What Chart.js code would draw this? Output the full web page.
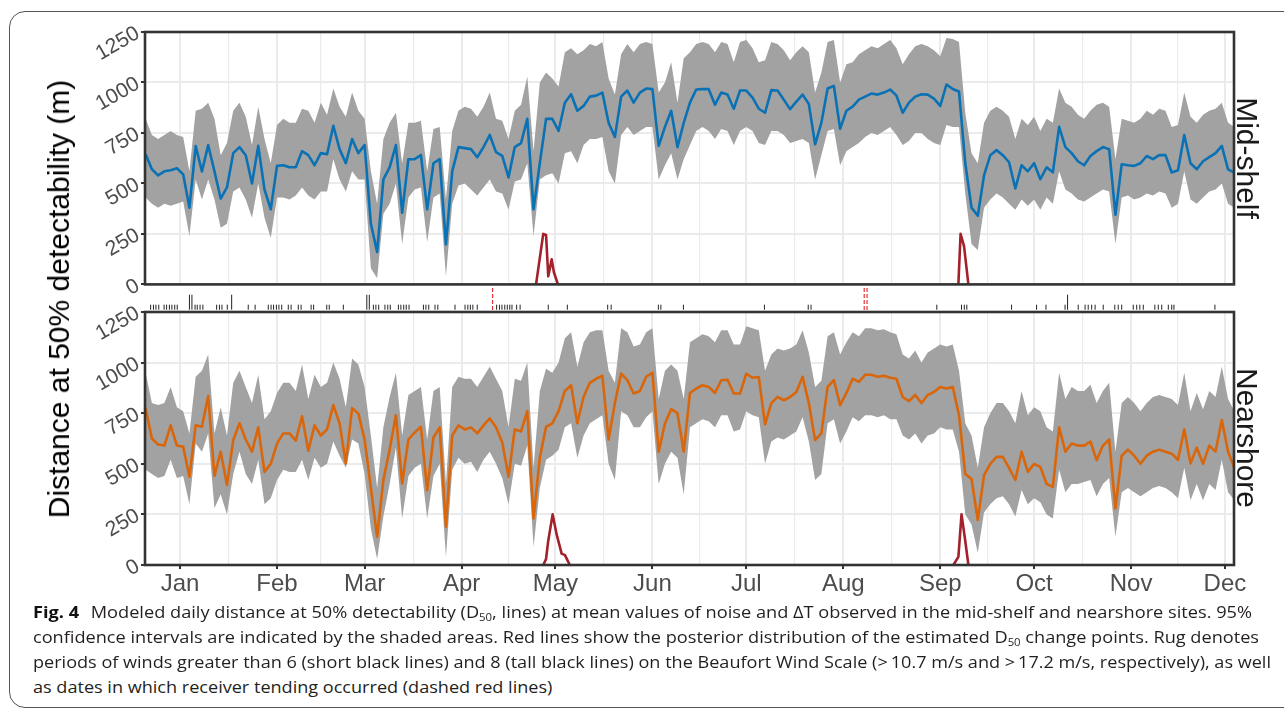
<!DOCTYPE html>
<html>
<head>
<meta charset="utf-8">
<title>Fig. 4 - D50 at mid-shelf and nearshore</title>
<script src="https://cdn.jsdelivr.net/npm/chart.js@4"></script>
<style>
  body { margin: 0; background: #fff; width: 1284px; height: 713px; overflow: hidden; position: relative; }
  .frame { position: absolute; left: 9px; top: 11px; width: 1320px; height: 695px; border: 1.3px solid #555; border-radius: 16px; }
  canvas { position: absolute; left: 0; }
  .ytitle, .strip { position: absolute; font-family: 'Liberation Sans', Arial, sans-serif; font-size: 30px; line-height: 30px; white-space: nowrap; color: #000; }
  .ytitle { left: 59px; top: 299px; transform: translate(-50%, -50%) rotate(-90deg); }
  .strip { left: 1247px; transform: translate(-50%, -50%) rotate(90deg); color: #1a1a1a; }
  .caption { position: absolute; left: 33px; top: 600px; font-family: 'Open Sans', 'Noto Sans', sans-serif; font-size: 16px; line-height: 25px; color: #231f20; }
  .caption div { white-space: nowrap; transform-origin: 0 50%; width: max-content; }
  .caption b { color: #111; margin-right: 6px; }
  .caption sub { font-size: 10px; vertical-align: -3px; line-height: 0; }
</style>
</head>
<body>
<div class="frame"></div>
<canvas id="topChart" width="1284" height="300" style="top:0"></canvas>
<canvas id="rugChart" width="1284" height="26" style="top:286px"></canvas>
<canvas id="bottomChart" width="1284" height="310" style="top:290px"></canvas>

<div class="ytitle">Distance at 50% detectability (m)</div>
<div class="strip" style="top:158px">Mid-shelf</div>
<div class="strip" style="top:438px">Nearshore</div>

<div class="caption" id="caption">
  <div data-w="1219"><b>Fig. 4</b> Modeled daily distance at 50% detectability (D<sub>50</sub>, lines) at mean values of noise and ΔT observed in the mid-shelf and nearshore sites. 95%</div>
  <div data-w="1226">confidence intervals are indicated by the shaded areas. Red lines show the posterior distribution of the estimated D<sub>50</sub> change points. Rug denotes</div>
  <div data-w="1238">periods of winds greater than 6 (short black lines) and 8 (tall black lines) on the Beaufort Wind Scale (&gt;&#8201;10.7 m/s and &gt;&#8201;17.2 m/s, respectively), as well</div>
  <div>as dates in which receiver tending occurred (dashed red lines)</div>
</div>

<script>
const FONT = "'Liberation Sans', Arial, sans-serif";

// days since Jan 1, sampled every second day
const dayGrid = Array.from({ length: 175 }, (_, i) => -11 + 2 * i);

const monthStarts = [0, 31, 59, 90, 120, 151, 181, 212, 243, 273, 304, 334];
const monthLabels = ['Jan', 'Feb', 'Mar', 'Apr', 'May', 'Jun', 'Jul', 'Aug', 'Sep', 'Oct', 'Nov', 'Dec'];
const yTicks = [0, 250, 500, 750, 1000, 1250];

// Mid-shelf D50 (m)
const midShelf = [
  645, 570, 540, 560, 565, 575, 545, 380, 685, 560,
  690, 560, 425, 480, 650, 680, 640, 500, 686, 470,
  372, 587, 590, 580, 580, 660, 640, 590, 650, 645,
  785, 670, 600, 720, 650, 690, 300, 160, 520, 580,
  690, 355, 620, 620, 640, 372, 600, 620, 198, 560,
  680, 675, 670, 630, 680, 740, 655, 636, 530, 680,
  700, 820, 372, 600, 820, 820, 760, 900, 942, 860,
  884, 930, 935, 950, 800, 730, 930, 960, 900, 950,
  970, 967, 686, 780, 860, 680, 800, 900, 965, 967,
  967, 890, 950, 940, 870, 960, 960, 925, 870, 850,
  962, 960, 915, 868, 905, 940, 893, 694, 800, 970,
  983, 770, 860, 880, 915, 930, 945, 940, 950, 965,
  935, 850, 900, 930, 942, 940, 920, 884, 990, 968,
  955, 600, 380, 340, 540, 640, 665, 640, 605, 475,
  590, 560, 600, 521, 580, 555, 780, 680, 650, 610,
  590, 636, 660, 680, 669, 345, 595, 590, 587, 600,
  636, 620, 640, 640, 554, 565, 740, 600, 570, 610,
  630, 650, 686, 570, 554
];
const midShelfHi = [
  820, 740, 720, 740, 760, 740, 730, 560, 860, 870,
  900, 820, 640, 700, 860, 900, 830, 690, 880, 720,
  600, 790, 820, 800, 800, 870, 860, 800, 900, 840,
  970, 880, 830, 950, 860, 820, 560, 400, 720, 800,
  850, 600, 800, 800, 810, 560, 770, 780, 420, 760,
  860, 880, 870, 830, 880, 950, 820, 810, 720, 860,
  890, 1030, 660, 1000, 1050, 1020, 980, 1150, 1170, 1140,
  1160, 1190, 1180, 1200, 1020, 940, 1140, 1190, 1150, 1190,
  1200, 1190, 950, 1000, 1100, 900, 1120, 1150, 1190, 1200,
  1190, 1150, 1200, 1190, 1100, 1200, 1210, 1170, 1100, 1110,
  1200, 1190, 1160, 1110, 1150, 1180, 1150, 950, 1050, 1200,
  1210, 1000, 1090, 1100, 1140, 1160, 1180, 1170, 1190, 1210,
  1170, 1090, 1140, 1180, 1190, 1180, 1160, 1130, 1220, 1215,
  1200, 850, 650, 600, 800, 860, 880, 860, 830, 720,
  820, 790, 830, 760, 820, 800, 970, 900, 880, 840,
  820, 860, 890, 900, 880, 620, 820, 810, 800, 820,
  860, 840, 870, 860, 780, 790, 950, 830, 800, 840,
  860, 870, 900, 800, 780
];
const midShelfLo = [
  430, 400, 380, 400, 390, 400, 410, 240, 520, 420,
  520, 420, 280, 300, 460, 480, 420, 330, 500, 330,
  230, 430, 430, 420, 440, 480, 440, 420, 460, 460,
  620, 520, 460, 560, 520, 520, 80, 30, 350, 400,
  500, 200, 430, 470, 480, 210, 430, 450, 40, 400,
  490, 500, 470, 440, 480, 520, 460, 450, 370, 510,
  520, 600, 240, 520, 540, 550, 500, 650, 660, 600,
  690, 720, 720, 730, 560, 500, 740, 780, 740, 760,
  780, 780, 520, 590, 650, 520, 620, 690, 760, 780,
  760, 720, 770, 760, 690, 760, 780, 760, 700, 690,
  760, 760, 740, 700, 710, 720, 700, 520, 640, 760,
  770, 590, 660, 680, 700, 730, 750, 740, 760, 780,
  740, 690, 710, 750, 750, 720, 700, 690, 790, 780,
  780, 450, 200, 170, 380, 420, 450, 430, 400, 370,
  420, 390, 420, 370, 430, 400, 560, 470, 450, 420,
  410, 430, 450, 470, 460, 200, 430, 440, 420, 430,
  450, 440, 460, 450, 380, 400, 560, 420, 400, 430,
  460, 470, 500, 400, 380
];

// Nearshore D50 (m)
const nearshore = [
  775, 625, 595, 590, 690, 590, 584, 436, 690, 683,
  835, 440, 560, 395, 617, 700, 620, 560, 680, 460,
  500, 600, 650, 650, 615, 735, 565, 690, 640, 670,
  790, 700, 502, 775, 748, 620, 380, 140, 420, 570,
  740, 403, 620, 655, 683, 370, 630, 680, 189, 640,
  690, 670, 680, 650, 690, 724, 680, 605, 436, 670,
  660, 760, 230, 530, 683, 700, 760, 860, 888, 700,
  831, 900, 920, 935, 620, 800, 946, 913, 847, 860,
  930, 950, 560, 699, 770, 750, 560, 850, 872, 888,
  880, 850, 913, 915, 847, 847, 945, 925, 929, 695,
  800, 831, 814, 830, 855, 930, 800, 617, 650, 880,
  913, 790, 850, 920, 905, 940, 940, 930, 935, 925,
  920, 830, 810, 840, 800, 840, 855, 880, 872, 880,
  740, 450, 425, 222, 444, 500, 534, 534, 480, 420,
  560, 460, 500, 485, 400, 386, 680, 560, 600, 590,
  590, 610, 518, 590, 620, 280, 540, 570, 540, 500,
  540, 560, 570, 560, 550, 520, 670, 502, 580, 500,
  590, 560, 716, 560, 480
];
const nearshoreHi = [
  950, 800, 790, 800, 880, 780, 760, 650, 930, 960,
  1040, 650, 780, 640, 900, 960, 880, 800, 940, 720,
  760, 850, 900, 900, 860, 990, 820, 940, 880, 900,
  1000, 920, 780, 1020, 990, 880, 640, 380, 680, 830,
  950, 640, 840, 860, 880, 620, 860, 880, 400, 880,
  930, 920, 920, 880, 930, 980, 920, 860, 680, 920,
  910, 1000, 480, 860, 970, 950, 1000, 1120, 1150, 980,
  1100, 1150, 1160, 1160, 960, 900, 1170, 1150, 1080, 1090,
  1150, 1170, 820, 960, 990, 960, 820, 1100, 1120, 1140,
  1130, 1100, 1160, 1160, 1090, 1090, 1180, 1170, 1160, 960,
  1040, 1070, 1060, 1070, 1090, 1160, 1050, 880, 910, 1130,
  1150, 1040, 1100, 1150, 1130, 1170, 1170, 1160, 1165, 1150,
  1140, 1040, 1020, 1060, 1000, 1050, 1070, 1090, 1080, 1090,
  960, 700, 640, 480, 680, 750, 800, 800, 760, 700,
  860, 740, 780, 760, 680, 660, 950, 820, 880, 860,
  860, 890, 800, 860, 900, 560, 800, 830, 800, 760,
  800, 830, 840, 830, 820, 790, 950, 760, 850, 770,
  860, 830, 980, 820, 760
];
const nearshoreLo = [
  470, 450, 430, 440, 520, 430, 440, 300, 600, 560,
  650, 280, 350, 250, 450, 560, 450, 400, 520, 300,
  330, 420, 470, 460, 460, 520, 420, 530, 480, 500,
  610, 540, 480, 620, 600, 450, 180, 30, 240, 400,
  580, 230, 440, 480, 500, 230, 440, 500, 40, 470,
  530, 500, 510, 460, 520, 560, 500, 430, 300, 500,
  490, 590, 90, 380, 520, 540, 570, 680, 700, 530,
  640, 700, 720, 740, 500, 420, 760, 740, 680, 680,
  730, 760, 400, 500, 560, 530, 350, 680, 700, 720,
  710, 680, 740, 740, 660, 670, 760, 740, 730, 500,
  610, 630, 620, 640, 660, 730, 610, 420, 450, 700,
  720, 600, 660, 730, 710, 740, 740, 730, 740, 720,
  720, 640, 620, 650, 600, 640, 650, 680, 670, 670,
  560, 250, 200, 60, 260, 300, 330, 340, 300, 240,
  370, 300, 330, 310, 250, 230, 470, 360, 400, 400,
  410, 420, 340, 400, 430, 140, 360, 380, 360, 340,
  360, 380, 390, 380, 360, 330, 480, 320, 400, 320,
  400, 370, 520, 360, 320
];

// posterior density of change points (scaled to the D50 axis)
const cpMidDays1 = [113.8, 116.1, 117.0, 117.7, 118.8, 119.5, 120.8];
const cpMidVals1 = [0, 250, 245, 40, 124, 60, 0];
const cpMidDays2 = [248.8, 249.5, 250.6, 252.0];
const cpMidVals2 = [0, 250, 190, 0];
const cpNearDays1 = [116.1, 117.0, 117.7, 119.1, 120.4, 122.0, 123.0, 124.6];
const cpNearVals1 = [0, 30, 120, 250, 150, 55, 50, 0];
const cpNearDays2 = [247.2, 248.8, 249.8, 250.9, 252.0];
const cpNearVals2 = [0, 40, 250, 130, 0];

// rug: days with winds > Beaufort 6 (short), > 8 (tall), receiver tending (dashed red)
const windBf6 = [
  -9.4, -8.5, -7.7, -6.8, -5.1, -4.3, -3.4, -2.6, -1.7, -0.9,
  4.8, 5.5, 6.4, 7.3, 11.7, 12.6, 13.4, 15.1, 21.8, 24.0,
  28.2, 29.1, 29.9, 30.8, 31.6, 32.5, 34.6, 35.5, 37.8, 38.7,
  41.9, 42.7, 46.9, 47.7, 52.2, 61.8, 62.6, 63.5, 65.5, 66.4,
  67.2, 69.8, 70.6, 71.5, 72.3, 73.2, 77.8, 78.6, 79.5, 81.5,
  82.4, 87.9, 91.1, 92.0, 92.8, 93.6, 95.0, 101.2, 102.1, 102.9,
  103.8, 104.6, 105.4, 106.1, 107.6, 108.7, 117.7, 123.8, 136.7, 137.8,
  152.9, 153.7, 160.9, 186.8, 200.8, 201.7, 241.9, 249.8, 250.7, 251.5,
  265.8, 273.8, 276.8, 282.9, 287.1, 289.3, 290.3, 291.4, 292.5, 295.1,
  298.8, 299.9, 301.0, 304.7, 305.8, 306.8, 307.9, 311.6, 312.7, 313.8,
  315.9, 317.0, 317.7, 330.8
];
const windBf8 = [3.0, 3.8, 16.5, 59.7, 60.5, 283.7];
const tendingDays = [99.9, 218.7, 219.6];

const BAND = '#a2a2a2';
const CP_COLOR = '#a3212b';
const X_MIN = -11.2, X_MAX = 336.9;

const panelBox = {
  id: 'panelBox',
  afterDatasetsDraw(chart) {
    const { ctx, chartArea: a } = chart;
    ctx.save();
    ctx.strokeStyle = '#333';
    ctx.lineWidth = 2.6;
    ctx.strokeRect(a.left, a.top, a.right - a.left, a.bottom - a.top);
    ctx.restore();
  }
};

function xScale(showLabels, bottomSpace) {
  return {
    type: 'linear', min: X_MIN, max: X_MAX,
    afterBuildTicks: s => {
      const mids = monthStarts.slice(1).map((m, i) => (monthStarts[i] + m) / 2);
      s.ticks = monthStarts.concat(mids)
        .filter(v => v >= X_MIN && v <= X_MAX)
        .sort((a, b) => a - b)
        .map(v => ({ value: v }));
    },
    afterFit: s => { s.height = bottomSpace; },
    grid: {
      color: '#ebebeb',
      lineWidth: c => (c.tick && monthStarts.includes(c.tick.value)) ? 2 : 1.2,
      drawTicks: showLabels,
      tickLength: 4,
      tickColor: c => (c.tick && monthStarts.includes(c.tick.value)) ? '#333' : 'rgba(0,0,0,0)'
    },
    border: { display: false },
    ticks: {
      display: showLabels, autoSkip: false, maxRotation: 0, minRotation: 0, padding: 1,
      color: '#4d4d4d', font: { family: FONT, size: 24 },
      callback: v => {
        const i = monthStarts.indexOf(v);
        return i >= 0 ? monthLabels[i] : '';
      }
    }
  };
}

function yScale() {
  return {
    min: 0, max: 1250,
    afterBuildTicks: s => { s.ticks = yTicks.map(v => ({ value: v })); },
    afterFit: s => { s.width = 145; },
    grid: { color: '#ebebeb', lineWidth: 2, tickLength: 4, tickColor: '#333' },
    border: { display: false },
    ticks: {
      color: '#4d4d4d', font: { family: FONT, size: 21 },
      minRotation: 30, maxRotation: 30, padding: 3,
      callback: v => String(v)
    }
  };
}

function panelDatasets(mid, lo, hi, color, cps) {
  const pts = arr => dayGrid.map((d, i) => ({ x: d, y: arr[i] }));
  const cpSets = cps.map(cp => ({
    data: cp[0].map((d, i) => ({ x: d, y: cp[1][i] })),
    borderColor: CP_COLOR, borderWidth: 2.6, pointRadius: 0, fill: false, order: 0,
    borderJoinStyle: 'round'
  }));
  return cpSets.concat([
    { data: pts(mid), borderColor: color, borderWidth: 2.6, pointRadius: 0, fill: false, order: 1, borderJoinStyle: 'round' },
    { data: pts(hi), borderColor: 'rgba(0,0,0,0)', borderWidth: 0, pointRadius: 0, backgroundColor: BAND, fill: '+1', order: 2 },
    { data: pts(lo), borderColor: 'rgba(0,0,0,0)', borderWidth: 0, pointRadius: 0, fill: false, order: 3 }
  ]);
}

function makePanel(id, datasets, showLabels, padding, bottomSpace) {
  return new Chart(document.getElementById(id), {
    type: 'line',
    data: { datasets },
    options: {
      responsive: false, animation: false, events: [],
      layout: { padding, autoPadding: false },
      plugins: { legend: { display: false }, tooltip: { enabled: false } },
      scales: { x: xScale(showLabels, bottomSpace), y: yScale() }
    },
    plugins: [panelBox]
  });
}

makePanel('topChart',
  panelDatasets(midShelf, midShelfLo, midShelfHi, '#0a72b4',
    [[cpMidDays1, cpMidVals1], [cpMidDays2, cpMidVals2]]),
  false, { top: 32, bottom: 15, left: 0, right: 50 }, 0);

makePanel('bottomChart',
  panelDatasets(nearshore, nearshoreLo, nearshoreHi, '#d9660a',
    [[cpNearDays1, cpNearVals1], [cpNearDays2, cpNearVals2]]),
  true, { top: 22, bottom: 0, left: 0, right: 50 }, 35);

// rug strip between the panels
new Chart(document.getElementById('rugChart'), {
  type: 'scatter',
  data: {
    datasets: [
      { data: windBf6.map(d => ({ x: d, y: 0.185 })), pointStyle: 'line', rotation: 90, radius: 2.5,
        borderColor: '#222', borderWidth: 1, clip: false },
      { data: windBf8.map(d => ({ x: d, y: 0.377 })), pointStyle: 'line', rotation: 90, radius: 7.5,
        borderColor: '#222', borderWidth: 1, clip: false }
    ].concat(tendingDays.map(d => ({
      type: 'line', data: [{ x: d, y: 0.08 }, { x: d, y: 0.96 }],
      borderColor: '#e5323a', borderWidth: 1.2, borderDash: [4, 2], pointRadius: 0, clip: false
    })))
  },
  options: {
    responsive: false, animation: false, events: [],
    layout: { padding: { left: 145, right: 50, top: 0, bottom: 0 }, autoPadding: false },
    plugins: { legend: { display: false }, tooltip: { enabled: false } },
    scales: {
      x: { type: 'linear', min: X_MIN, max: X_MAX, display: false },
      y: { min: 0, max: 1, display: false }
    }
  }
});

// stretch caption lines to the printed line widths
function fitCaption() {
  const lines = document.querySelectorAll('#caption div');
  let last = 1;
  lines.forEach(el => {
    el.style.transform = 'none';
    const w = el.getBoundingClientRect().width;
    const target = el.dataset.w ? +el.dataset.w : null;
    const k = target ? target / w : last;
    if (target) last = k;
    el.style.transform = 'scaleX(' + k + ')';
  });
}
fitCaption();
if (document.fonts && document.fonts.ready) document.fonts.ready.then(fitCaption);
</script>
</body>
</html>
